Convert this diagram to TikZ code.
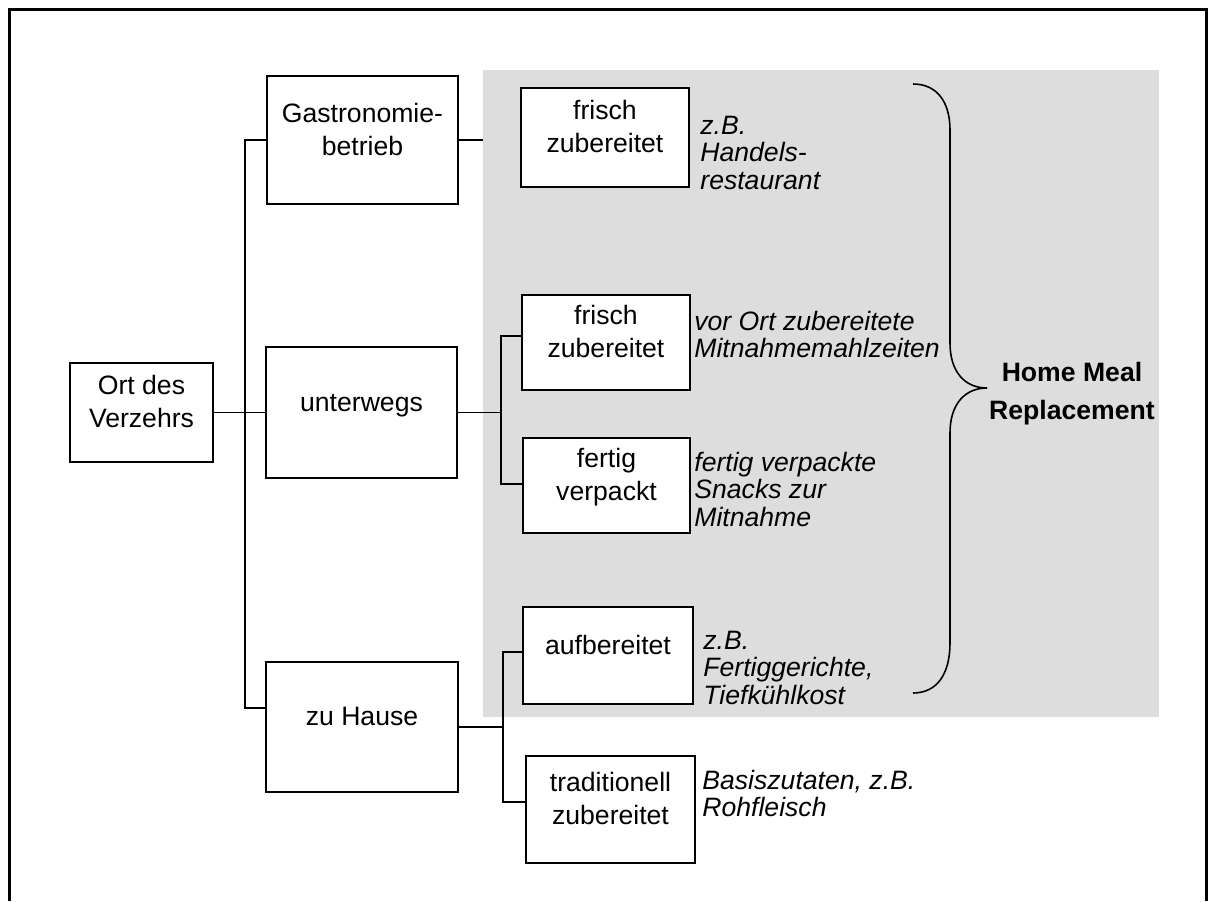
\documentclass[tikz,border=0pt]{standalone}
\usepackage{fontspec}
\setmainfont{Liberation Sans}
\definecolor{hmrgray}{RGB}{221,221,221}
\newcommand{\bx}[1]{\raisebox{4pt}[\height][\depth]{\begin{tabular}{@{}c@{}}#1\end{tabular}}}
\newcommand{\nt}[1]{\begin{tabular}[t]{@{}l@{}}#1\end{tabular}}
\tikzset{
  kasten/.style 2 args={draw=black, line width=0.8pt, fill=white, inner sep=0pt,
    minimum width=#1*0.5pt, minimum height=#2*0.5pt,
    font=\fontsize{13.3}{16.5}\selectfont},
  note/.style={inner sep=0pt, anchor=base west, font=\fontsize{13.3}{13.75}\selectfont\itshape},
  conn/.style={line width=0.6pt, draw=black},
  frame/.style={line width=1.5pt, draw=black},
  bracepath/.style={line width=0.8pt, draw=black},
}
\begin{document}
\begin{tikzpicture}[x=0.5pt,y=-0.5pt]
\useasboundingbox (0,0) rectangle (1212,901);
% grey area
\fill[hmrgray] (483,70) rectangle (1159,717);
\coordinate (grayW) at (483,0);
% outer frame
\draw[frame] (9.5,901) -- (9.5,9.5) -- (1206,9.5) -- (1206,901);

% boxes
\node[kasten={143}{99}] (ort) at (141.5,412.5) {\bx{Ort des\\Verzehrs}};
\node[kasten={191}{128}] (gastro) at (362.5,140) {\bx{Gastronomie-\\betrieb}};
\node[kasten={191}{131}] (unterwegs) at (361.5,412.5) {\bx{unterwegs}};
\node[kasten={192}{130}] (zuhause) at (362,727) {\bx{zu Hause}};
\node[kasten={168}{99}] (frisch1) at (605,137.5) {\bx{frisch\\zubereitet}};
\node[kasten={168}{95}] (frisch2) at (606,342.5) {\bx{frisch\\zubereitet}};
\node[kasten={167}{95}] (fertig) at (606.5,485.5) {\bx{fertig\\verpackt}};
\node[kasten={170}{97}] (aufb) at (608,655.5) {\bx{aufbereitet}};
\node[kasten={169}{107}] (trad) at (610.5,809.5) {\bx{traditionell\\zubereitet}};

% notes
\node[note] (n1) at (700,134) {\nt{z.B.\\Handels-\\restaurant}};
\node[note] (n2) at (694,330) {\nt{vor Ort zubereitete\\Mitnahmemahlzeiten}};
\node[note] (n3) at (694,471) {\nt{fertig verpackte\\Snacks zur\\Mitnahme}};
\node[note] (n4) at (703,649) {\nt{z.B.\\Fertiggerichte,\\Tiefkühlkost}};
\node[note] (n5) at (702,789) {\nt{Basiszutaten, z.B.\\Rohfleisch}};

% main tree
\coordinate (m) at (245,412.5);
\coordinate (zin) at ([yshift=9.5pt]zuhause.west);
\draw[conn] (ort.east) -- (unterwegs.west);
\draw[conn] (gastro.west) -| (m) |- (zin);
\draw[conn] (gastro.east) -- (gastro.east -| grayW);

% unterwegs branch
\coordinate (bu) at (501,0);
\coordinate (f2in) at ([yshift=3.25pt]frisch2.west);
\coordinate (fvin) at ([yshift=0.75pt]fertig.west);
\draw[conn] (unterwegs.east) -- (unterwegs.east -| bu);
\draw[conn] (f2in) -| (bu |- fvin) -- (fvin);

% zu Hause branch
\coordinate (bz) at (503,0);
\coordinate (auin) at ([yshift=1.75pt]aufb.west);
\coordinate (trin) at ([yshift=3.75pt]trad.west);
\draw[conn] (zuhause.east) -- (zuhause.east -| bz);
\draw[conn] (auin) -| (bz |- trin) -- (trin);

% brace
\draw[bracepath] (913,84) .. controls (937,84) and (950,102) .. (950,130)
  -- (950,343) .. controls (950,372) and (965,388) .. (987,388)
  .. controls (965,388) and (950,404) .. (950,433)
  -- (950,643) .. controls (950,674) and (937,693) .. (913,693);
\node[inner sep=0pt, anchor=base, font=\fontsize{13.3}{19}\selectfont\bfseries] (hmr) at (1072,381)
  {\begin{tabular}[t]{@{}c@{}}Home Meal\\Replacement\end{tabular}};
\end{tikzpicture}
\end{document}
